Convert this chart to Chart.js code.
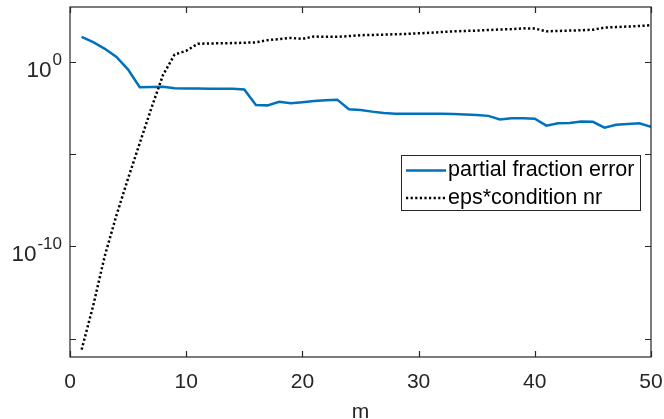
<!DOCTYPE html>
<html>
<head>
<meta charset="utf-8">
<script src="https://cdn.jsdelivr.net/npm/chart.js@4.4.1/dist/chart.umd.min.js"></script>
<style>
  html, body { margin: 0; padding: 0; background: #fff; }
  #wrap { width: 664px; height: 419px; }
</style>
</head>
<body>
<div id="wrap"><canvas id="errChart" width="664" height="419"></canvas></div>
<script>
// m = 1..50
const mValues = [
  1, 2, 3, 4, 5, 6, 7, 8, 9, 10,
  11, 12, 13, 14, 15, 16, 17, 18, 19, 20,
  21, 22, 23, 24, 25, 26, 27, 28, 29, 30,
  31, 32, 33, 34, 35, 36, 37, 38, 39, 40,
  41, 42, 43, 44, 45, 46, 47, 48, 49, 50
];

// (log scale)
const partialFractionError = [
  24.0, 12.3, 5.37, 1.95, 0.398, 0.0437, 0.0457, 0.0468, 0.0389, 0.0372,
  0.0372, 0.0363, 0.0363, 0.0363, 0.0331, 0.00479, 0.00457, 0.00708, 0.00589, 0.00676,
  0.00794, 0.00871, 0.00933, 0.00282, 0.00257, 0.00209, 0.00178, 0.00158, 0.00158, 0.00162,
  0.00162, 0.00158, 0.00155, 0.00148, 0.00138, 0.00123, 7.94e-4, 9.12e-4, 9.12e-4, 8.71e-4,
  3.63e-4, 4.90e-4, 5.01e-4, 6.17e-4, 5.89e-4, 2.82e-4, 4.07e-4, 4.47e-4, 4.90e-4, 3.09e-4
];

const epsConditionNr = [
  2.5e-16, 6.3e-14, 3.2e-11, 5.0e-9, 5.0e-7, 4.0e-5, 3.2e-3, 0.20, 2.63, 4.17,
  10.0, 10.5, 10.7, 11.0, 11.5, 12.0, 15.8, 18.2, 20.9, 18.6,
  25.1, 24.0, 24.0, 26.3, 29.5, 30.2, 31.6, 33.1, 34.7, 37.2,
  39.8, 43.7, 47.9, 50.1, 52.5, 56.2, 60.3, 63.1, 69.2, 67.6,
  47.9, 50.1, 52.5, 55.0, 58.9, 75.9, 81.3, 87.1, 93.3, 102
];

const seriesLabels = ["partial fraction error", "eps*condition nr"];
const xTicks = [0, 10, 20, 30, 40, 50];
const yTickExps = [-15, -10, -5, 0];
const yLabelExps = [-10, 0];
const xTitle = "m";

const axisColor = "#262626";
const blue = "#0072BD";

function toPoints(ys) {
  return mValues.map((m, i) => ({ x: m, y: ys[i] }));
}

// axes box, inward ticks, tick labels and legend in MATLAB style
const matlabAxes = {
  id: "matlabAxes",
  afterDraw(chart) {
    const ctx = chart.ctx;
    const area = chart.chartArea;
    const xs = chart.scales.x;
    const ys = chart.scales.y;
    ctx.save();

    ctx.strokeStyle = axisColor;
    ctx.lineWidth = 1.2;
    ctx.strokeRect(area.left, area.top, area.right - area.left, area.bottom - area.top);

    ctx.beginPath();
    xTicks.forEach((v) => {
      const px = Math.round(xs.getPixelForValue(v)) + 0.5;
      ctx.moveTo(px, area.bottom); ctx.lineTo(px, area.bottom - 6);
      ctx.moveTo(px, area.top); ctx.lineTo(px, area.top + 6);
    });
    yTickExps.forEach((e) => {
      const py = Math.round(ys.getPixelForValue(Math.pow(10, e))) + 0.5;
      ctx.moveTo(area.left, py); ctx.lineTo(area.left + 6, py);
      ctx.moveTo(area.right, py); ctx.lineTo(area.right - 6, py);
    });
    ctx.stroke();

    // x tick labels
    ctx.fillStyle = axisColor;
    ctx.font = "21px 'Liberation Sans', Arial, sans-serif";
    ctx.textAlign = "center";
    ctx.textBaseline = "alphabetic";
    xTicks.forEach((v) => {
      ctx.fillText(String(v), xs.getPixelForValue(v), 388);
    });

    // x title
    ctx.fillText(xTitle, (area.left + area.right) / 2, 418);

    // y tick labels 10^e
    yLabelExps.forEach((e) => {
      const py = ys.getPixelForValue(Math.pow(10, e));
      ctx.font = "17px 'Liberation Sans', Arial, sans-serif";
      const expText = String(e);
      const expW = ctx.measureText(expText).width;
      const rightEdge = area.left - 8;
      ctx.textAlign = "left";
      ctx.fillText(expText, rightEdge - expW, py + 3);
      ctx.font = "22.5px 'Liberation Sans', Arial, sans-serif";
      const baseW = ctx.measureText("10").width;
      ctx.fillText("10", rightEdge - expW - baseW - 1, py + 14.5);
    });

    // legend
    const lx = 401.5, ly = 155.5, lw = 239, lh = 55;
    ctx.fillStyle = "#fff";
    ctx.fillRect(lx, ly, lw, lh);
    ctx.strokeStyle = axisColor;
    ctx.lineWidth = 1;
    ctx.strokeRect(lx, ly, lw, lh);

    const rows = [170.5, 198];
    chart.data.datasets.forEach((ds, i) => {
      const ry = rows[i];
      ctx.beginPath();
      ctx.strokeStyle = ds.borderColor;
      ctx.lineWidth = ds.borderWidth;
      ctx.setLineDash(ds.borderDash || []);
      ctx.moveTo(406, ry);
      ctx.lineTo(446, ry);
      ctx.stroke();
      ctx.setLineDash([]);
      ctx.fillStyle = "#000";
      ctx.font = "21.5px 'Liberation Sans', Arial, sans-serif";
      ctx.textAlign = "left";
      ctx.textBaseline = "middle";
      ctx.fillText(ds.label, 448, ry);
    });

    ctx.restore();
  },
};

const chart = new Chart(document.getElementById("errChart"), {
  type: "line",
  data: {
    datasets: [
      {
        label: seriesLabels[0],
        data: toPoints(partialFractionError),
        borderColor: blue,
        borderWidth: 2.5,
        pointRadius: 0,
        tension: 0,
        order: 1,
      },
      {
        label: seriesLabels[1],
        data: toPoints(epsConditionNr),
        borderColor: "#000",
        borderWidth: 2.5,
        borderDash: [2.2, 2.4],
        pointRadius: 0,
        tension: 0,
        order: 0,
      },
    ],
  },
  options: {
    responsive: false,
    animation: false,
    devicePixelRatio: 1,
    layout: { padding: { left: 70, right: 13, top: 7, bottom: 62 } },
    plugins: { legend: { display: false }, tooltip: { enabled: false } },
    scales: {
      x: { type: "linear", min: 0, max: 50, display: false },
      y: { type: "logarithmic", min: 1e-16, max: 1e3, display: false },
    },
  },
  plugins: [matlabAxes],
});
</script>
</body>
</html>
